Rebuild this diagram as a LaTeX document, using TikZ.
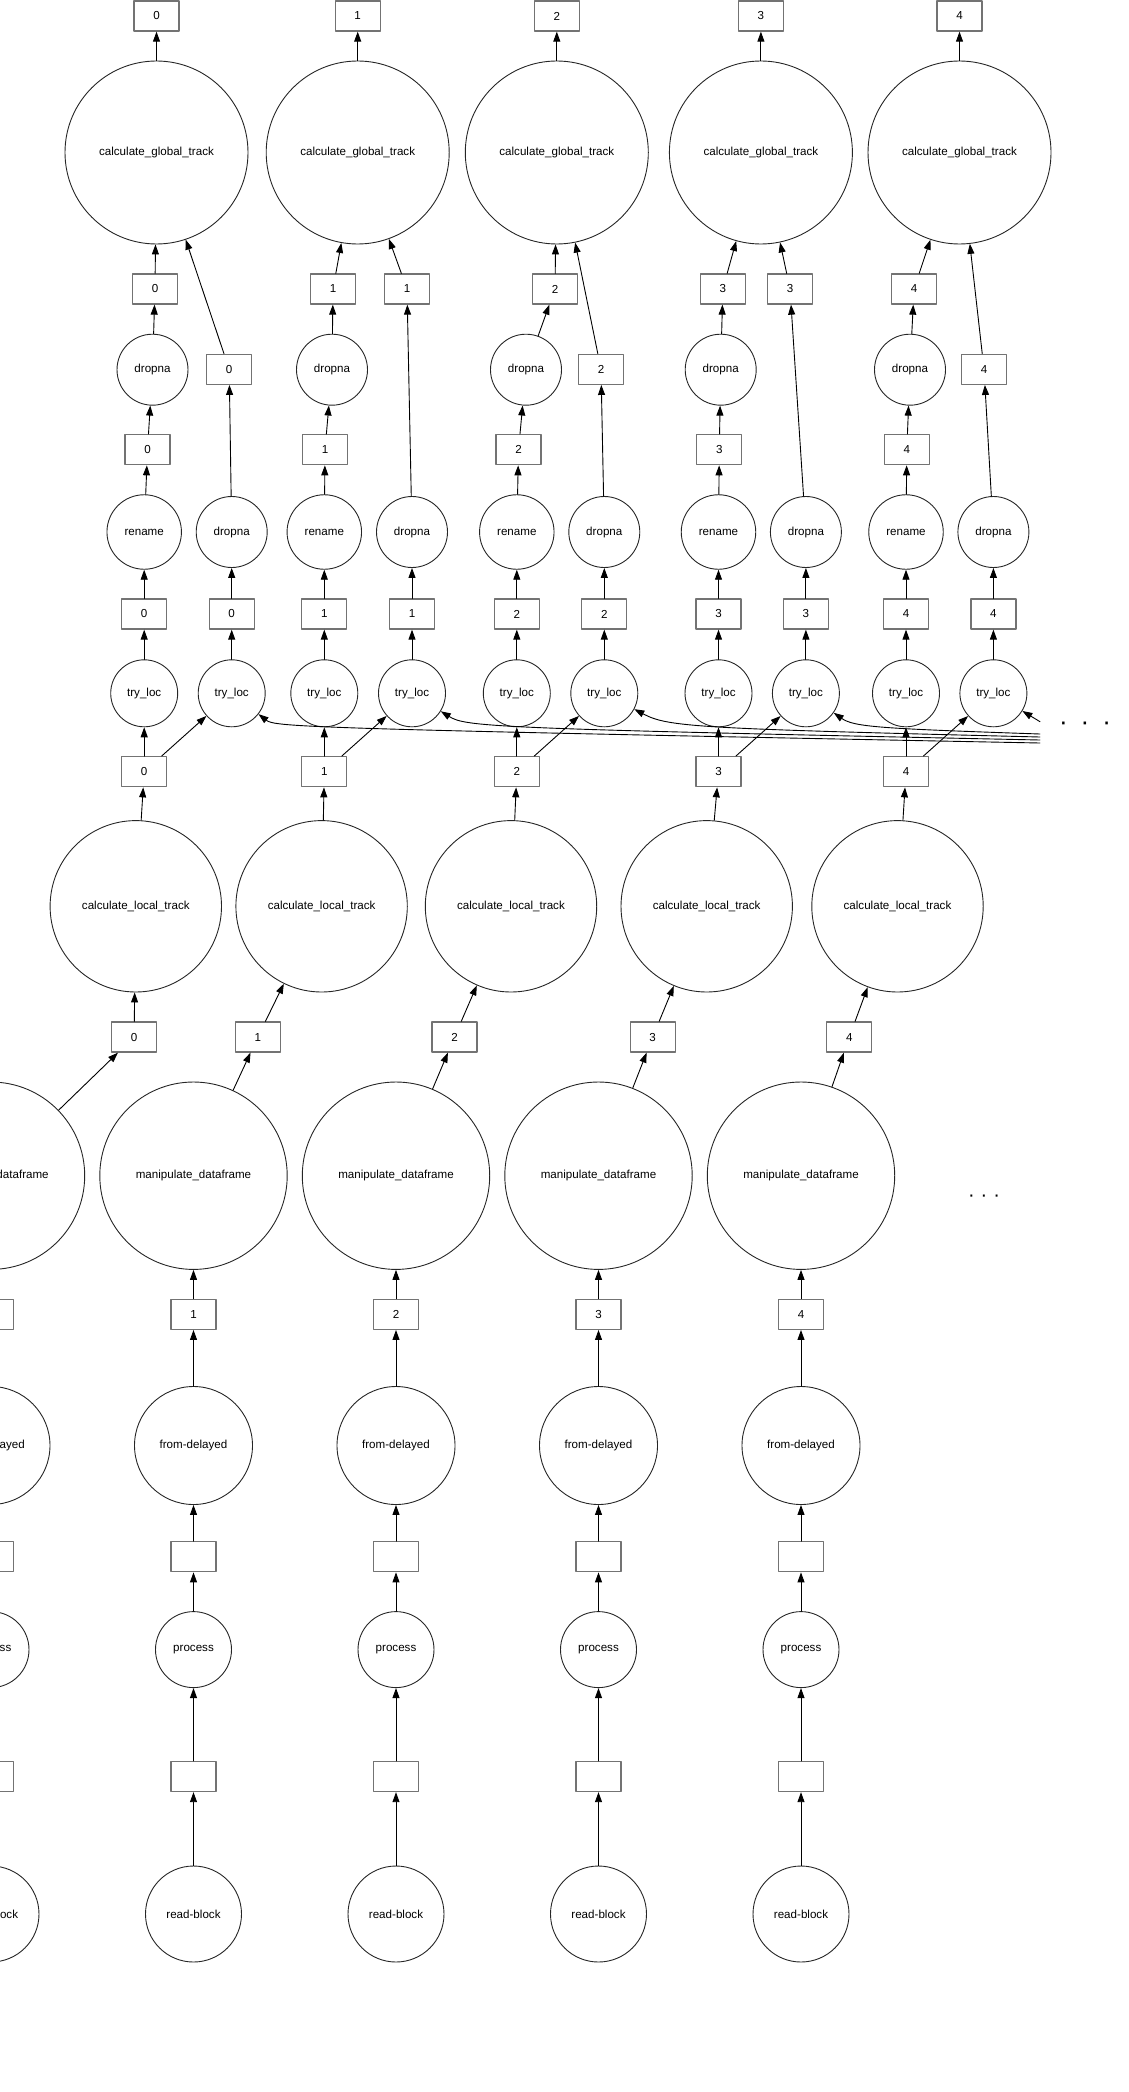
\documentclass[tikz,border=0pt]{standalone}
\usepackage{fontspec}
\setmainfont{Liberation Sans}
\usetikzlibrary{arrows.meta}

\begin{document}
\begin{tikzpicture}[
  x=1pt,y=-1pt,
  line cap=round,line join=round,
  >={Triangle[length=10pt,width=7pt]},
  task/.style={circle,draw=black!85,line width=0.9pt,inner sep=0pt,font=\fontsize{11.6}{13}\selectfont},
  chunk/.style={draw=black!55,line width=1.3pt,minimum width=45pt,minimum height=30pt,inner sep=0pt,font=\fontsize{11.6}{13}\selectfont},
  dep/.style={->,draw=black,line width=0.9pt}
]
  \path[use as bounding box] (0,0) rectangle (1128,2092);
  \clip (0,0) rectangle (1128,2092);

  % upper part, one group per global track
  \foreach \g/\xo/\xa/\xd/\xb/\xr/\xq/\xt/\yq in {
    0/156.5/155/152.5/147.5/144.2/229.2/231.7/369.3,
    1/357.7/333/332/325/324.3/407/412/289,
    2/556.8/555/526/518.5/516.8/601/604.3/369.3,
    3/760.9/722.8/720.7/719.3/718.5/790/805.9/289,
    4/959.5/914/910/906.8/906/984/993.4/369.3} {
    \node[chunk] (out\g) at (\xo,16) {\g};
    \node[task,minimum size=183pt] (glob\g) at (\xo,152.5) {calculate\_global\_track};
    \node[chunk] (la\g) at (\xa,289) {\g};
    \node[chunk] (ra\g) at (\xq,\yq) {\g};
    \node[task,minimum size=71pt] (dup\g) at (\xd,369.7) {dropna};
    \node[chunk] (lb\g) at (\xb,449.7) {\g};
    \node[task,minimum size=74.5pt] (ren\g) at (\xr,532) {rename};
    \node[task,minimum size=71pt] (dlo\g) at (\xt,532) {dropna};
    \node[chunk] (lc\g) at (\xr,614) {\g};
    \node[chunk] (rc\g) at (\xt,614) {\g};
    \node[task,minimum size=67pt] (tla\g) at (\xr,693.3) {try\_loc};
    \node[task,minimum size=67pt] (tlb\g) at (\xt,693.3) {try\_loc};
    \node[chunk] (ld\g) at (\xr,771.7) {\g};
  }

  \foreach \g/\xl/\xe in {0/135.8/134.1,1/321.6/257.8,2/511/454.5,3/706.7/652.7,4/897.5/849.3} {
    \node[task,minimum size=171.4pt] (loc\g) at (\xl,906.3) {calculate\_local\_track};
    \node[chunk] (le\g) at (\xe,1037) {\g};
  }

  % lower part, one chain per block
  \foreach \g/\xm in {0/-9,1/193.5,2/396,3/598.5,4/801} {
    \node[task,minimum size=187.4pt] (man\g) at (\xm,1175.7) {manipulate\_dataframe};
    \node[chunk] (lf\g) at (\xm,1314.3) {\g};
    \node[task,minimum size=118pt] (fd\g) at (\xm,1445.5) {from-delayed};
    \node[chunk] (eu\g) at (\xm,1556.7) {};
    \node[task,minimum size=76pt] (proc\g) at (\xm,1649.6) {process};
    \node[chunk] (ew\g) at (\xm,1776.5) {};
    \node[task,minimum size=96pt] (rb\g) at (\xm,1914) {read-block};
  }

  \foreach \g in {0,...,4} {
    \draw[dep] (glob\g) -- (out\g);
    \draw[dep] (la\g) -- (glob\g);
    \draw[dep] (ra\g) -- (glob\g);
    \draw[dep] (dup\g) -- (la\g);
    \draw[dep] (lb\g) -- (dup\g);
    \draw[dep] (ren\g) -- (lb\g);
    \draw[dep] (lc\g) -- (ren\g);
    \draw[dep] (dlo\g) -- (ra\g);
    \draw[dep] (rc\g) -- (dlo\g);
    \draw[dep] (tla\g) -- (lc\g);
    \draw[dep] (tlb\g) -- (rc\g);
    \draw[dep] (ld\g) -- (tla\g);
    \draw[dep] (ld\g) -- (tlb\g);
    \draw[dep] (loc\g) -- (ld\g);
    \draw[dep] (le\g) -- (loc\g);
    \draw[dep] (man\g) -- (le\g);
    \draw[dep] (lf\g) -- (man\g);
    \draw[dep] (fd\g) -- (lf\g);
    \draw[dep] (eu\g) -- (fd\g);
    \draw[dep] (proc\g) -- (eu\g);
    \draw[dep] (ew\g) -- (proc\g);
    \draw[dep] (rb\g) -- (ew\g);
  }

  % edges coming in from the right
  \foreach \g/\yf/\xk in {0/743/287,1/740/478,2/737/680,3/734/866} {
    \coordinate (far\g) at (1040,\yf);
    \draw[dep] (far\g) .. controls (\xk+13,728.5) and (\xk-12,727) .. (tlb\g);
  }
  \coordinate (far4) at (1040,721.7);
  \draw[dep] (far4) -- (tlb4);

  \node[font=\fontsize{26}{26}\selectfont] (more) at (1085,726) {·\hspace{13pt}·\hspace{13pt}·};
  \node[font=\fontsize{20}{20}\selectfont] (moreb) at (984,1198) {·\hspace{6pt}·\hspace{6pt}·};
\end{tikzpicture}
\end{document}
